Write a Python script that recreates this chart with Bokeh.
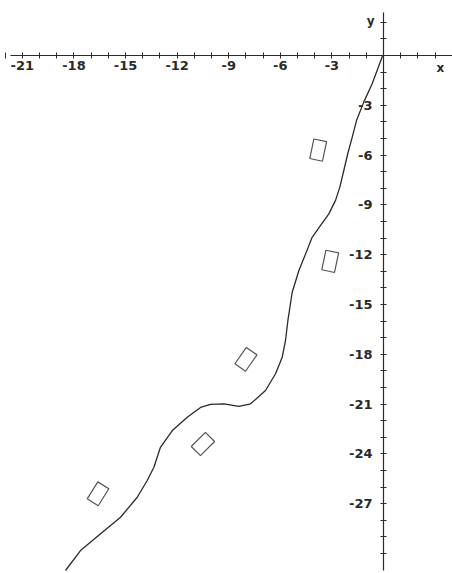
from bokeh.plotting import figure
from bokeh.models import LinearAxis, FixedTicker, Range1d, Label
from bokeh.embed import file_html
from bokeh.resources import INLINE

# curve
curve_x = [-0.05, -0.66, -1.15, -1.57, -1.82, -2.08, -2.31, -2.54, -2.79, -3.18, -3.66,
           -4.15, -4.53, -4.92, -5.31, -5.56, -5.70, -5.89, -6.28, -6.86, -7.73, -8.41,
           -9.28, -10.06, -10.64, -11.41, -12.28, -12.97, -13.35, -13.74, -14.32, -15.29,
           -16.45, -17.62, -18.49]
curve_y = [0.0, -1.70, -2.81, -3.92, -4.92, -5.92, -6.93, -7.93, -8.73, -9.54, -10.24,
           -10.95, -11.95, -12.95, -14.26, -15.96, -17.17, -18.17, -19.17, -20.18, -20.98, -21.14,
           -20.98, -21.02, -21.20, -21.79, -22.59, -23.60, -24.80, -25.60, -26.61, -27.81,
           -28.81, -29.82, -31.02]

# small rectangles
box_x = [-3.8, -3.1, -8.0, -10.5, -16.6]
box_y = [-5.7, -12.4, -18.3, -23.4, -26.4]
box_angle_deg = [-12, -12, -35, -45, -32]

# ticks
x_ticks = list(range(-22, 5))
y_ticks = list(range(-30, 3))
x_labeled = [-21, -18, -15, -12, -9, -6, -3]
y_labeled = [-3, -6, -9, -12, -15, -18, -21, -24, -27]

p = figure(width=452, height=573, x_range=Range1d(-22.27, 4.01), y_range=Range1d(-31.2, 3.31),
           output_backend="svg", toolbar_location=None,
           x_axis_location=None, y_axis_location=None, min_border=0)
p.outline_line_color = None
p.xgrid.visible = False
p.ygrid.visible = False
p.background_fill_color = "white"

font = "DejaVu Sans"
ink = "#2a2a2a"

xaxis = LinearAxis(fixed_location=0, ticker=FixedTicker(ticks=x_ticks), bounds=(-21.7, 4.0),
                   major_label_overrides={t: (str(t) if t in x_labeled else "") for t in x_ticks})
yaxis = LinearAxis(fixed_location=0, ticker=FixedTicker(ticks=y_ticks), bounds=(-31.0, 2.6),
                   major_label_overrides={t: (str(t) if t in y_labeled else "") for t in y_ticks})
for ax in (xaxis, yaxis):
    ax.axis_line_color = ink
    ax.axis_line_width = 1.2
    ax.major_tick_line_color = ink
    ax.major_tick_in = 3
    ax.major_tick_out = 3
    ax.minor_tick_line_color = None
    ax.major_label_text_font = font
    ax.major_label_text_font_style = "bold"
    ax.major_label_text_font_size = "13px"
    ax.major_label_text_color = ink
xaxis.major_label_standoff = 3
yaxis.major_label_standoff = 8
p.add_layout(xaxis, "below")
p.add_layout(yaxis, "left")

p.line(curve_x, curve_y, line_color=ink, line_width=1.3, line_join="round")
p.rect(box_x, box_y, width=13, height=20, width_units="screen", height_units="screen",
       angle=box_angle_deg, angle_units="deg", fill_color=None, line_color="#555555", line_width=1.2)

p.add_layout(Label(x=3.3, y=-0.35, text="x", text_font=font, text_font_style="bold",
                   text_font_size="12px", text_color=ink, text_align="center", text_baseline="top"))
p.add_layout(Label(x=-0.75, y=2.1, text="y", text_font=font, text_font_style="bold",
                   text_font_size="12px", text_color=ink, text_align="center", text_baseline="middle"))

open("out.html", "w").write(file_html(p, INLINE))
